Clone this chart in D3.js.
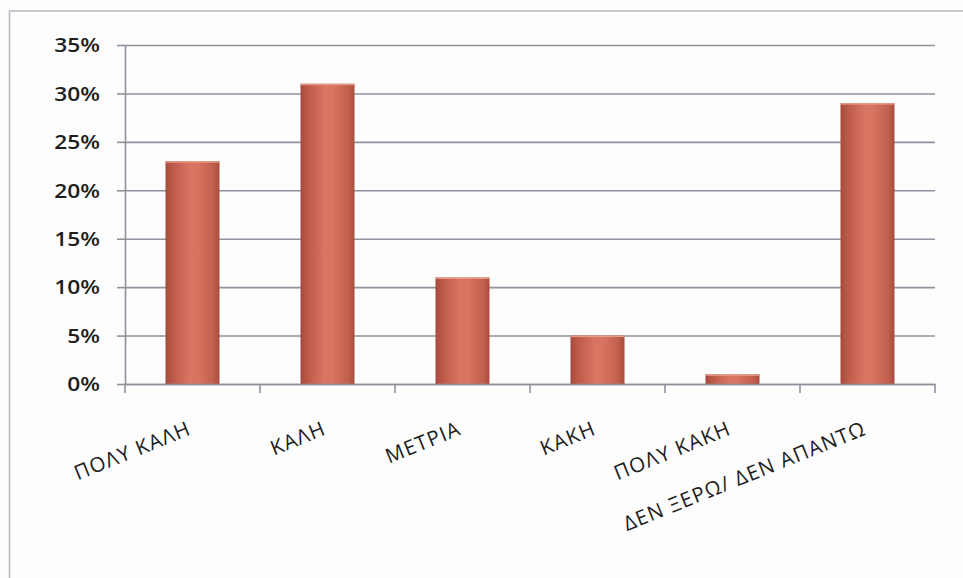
<!DOCTYPE html>
<html>
<head>
<meta charset="utf-8">
<script src="https://cdn.jsdelivr.net/npm/d3@7"></script>
<style>
  html, body { margin: 0; padding: 0; background: #fdfdfd; }
  svg { display: block; }
  text { font-family: "Open Sans", "DejaVu Sans", sans-serif; fill: #1e1e1e; }
</style>
</head>
<body>
<svg id="chart" width="963" height="578"></svg>
<script>
const categories = ["ΠΟΛΥ ΚΑΛΗ", "ΚΑΛΗ", "ΜΕΤΡΙΑ", "ΚΑΚΗ", "ΠΟΛΥ ΚΑΚΗ", "ΔΕΝ ΞΕΡΩ/ ΔΕΝ ΑΠΑΝΤΩ"];
const values = [0.23, 0.31, 0.11, 0.05, 0.01, 0.29];
const yTicks = [0, 0.05, 0.10, 0.15, 0.20, 0.25, 0.30, 0.35];

(function () {
const svg = d3.select("#chart");
const W = 963, H = 578;
const stretch = 1.2;

// outer frame
svg.append("rect").attr("x", 9.5).attr("y", 11).attr("width", W).attr("height", H)
  .attr("fill", "#fdfdfd").attr("stroke", "#b4b8c0").attr("stroke-width", 1.5);

const pl = 125, pr = 935, pt = 45, pb = 384;

const x = d3.scaleBand().domain(categories).range([pl, pr])
  .paddingInner(0.6).paddingOuter(0.3);
const y = d3.scaleLinear().domain([0, 0.35]).range([pb, pt]);

const defs = svg.append("defs");
const grad = defs.append("linearGradient").attr("id", "barGrad")
  .attr("x1", "0%").attr("x2", "100%").attr("y1", "0%").attr("y2", "0%");
[[0, "#a44a3c"], [0.12, "#bb5949"], [0.45, "#d97563"], [0.6, "#d87461"], [0.88, "#c1604e"], [1, "#a84d3e"]]
  .forEach(([o, c]) => grad.append("stop").attr("offset", o).attr("stop-color", c));

// gridlines
const grid = svg.append("g").attr("transform", `translate(${pl},0)`)
  .call(d3.axisLeft(y).tickValues(yTicks).tickSize(-(pr - pl)).tickFormat(""));
grid.select(".domain").remove();
grid.selectAll(".tick line").attr("stroke", "#8e929c").attr("stroke-width", 1.6);

// y axis
const yAxis = svg.append("g").attr("transform", `translate(${pl},0)`)
  .call(d3.axisLeft(y).tickValues(yTicks).tickSize(8).tickPadding(17).tickSizeOuter(0)
    .tickFormat(d3.format(".0%")));
yAxis.select(".domain").attr("stroke", "#8e929c").attr("stroke-width", 1.6);
yAxis.selectAll(".tick line").attr("stroke", "#8e929c").attr("stroke-width", 1.6);
yAxis.selectAll(".tick text").style("font-size", "19px").style("font-weight", 600)
  .attr("x", -25 / stretch).attr("transform", `scale(${stretch},1)`)
  .attr("dy", "0.36em");

// bars
svg.append("g").selectAll("rect").data(values).join("rect")
  .attr("x", (d, i) => x(categories[i]))
  .attr("y", d => y(d))
  .attr("width", x.bandwidth())
  .attr("height", d => y(0) - y(d))
  .attr("fill", "url(#barGrad)");
svg.append("g").selectAll("rect").data(values).join("rect")
  .attr("x", (d, i) => x(categories[i]))
  .attr("y", d => y(d))
  .attr("width", x.bandwidth())
  .attr("height", 1.5)
  .attr("fill", "#e79a88");

// x axis
const xAxis = svg.append("g").attr("transform", `translate(0,${pb})`)
  .call(d3.axisBottom(x).tickSize(0).tickFormat(""));
xAxis.select(".domain").attr("stroke", "#8e929c").attr("stroke-width", 1.6);
const step = x.step();
const bTicks = d3.range(categories.length + 1).map(i => pl + i * step);
xAxis.selectAll(".btick").data(bTicks).join("line").attr("class", "btick")
  .attr("x1", d => d).attr("x2", d => d).attr("y1", 0).attr("y2", 9)
  .attr("stroke", "#8e929c").attr("stroke-width", 1.6);

// rotated category labels
svg.append("g").selectAll("text").data(categories).join("text")
  .attr("transform", d => `translate(${x(d) + x.bandwidth() / 2},${pb + 50}) rotate(-22)`)
  .attr("text-anchor", "end")
  .style("font-size", "20.5px")
  .style("font-weight", 500)
  .attr("letter-spacing", "1.2px")
  .text(d => d);
})();
</script>
</body>
</html>
